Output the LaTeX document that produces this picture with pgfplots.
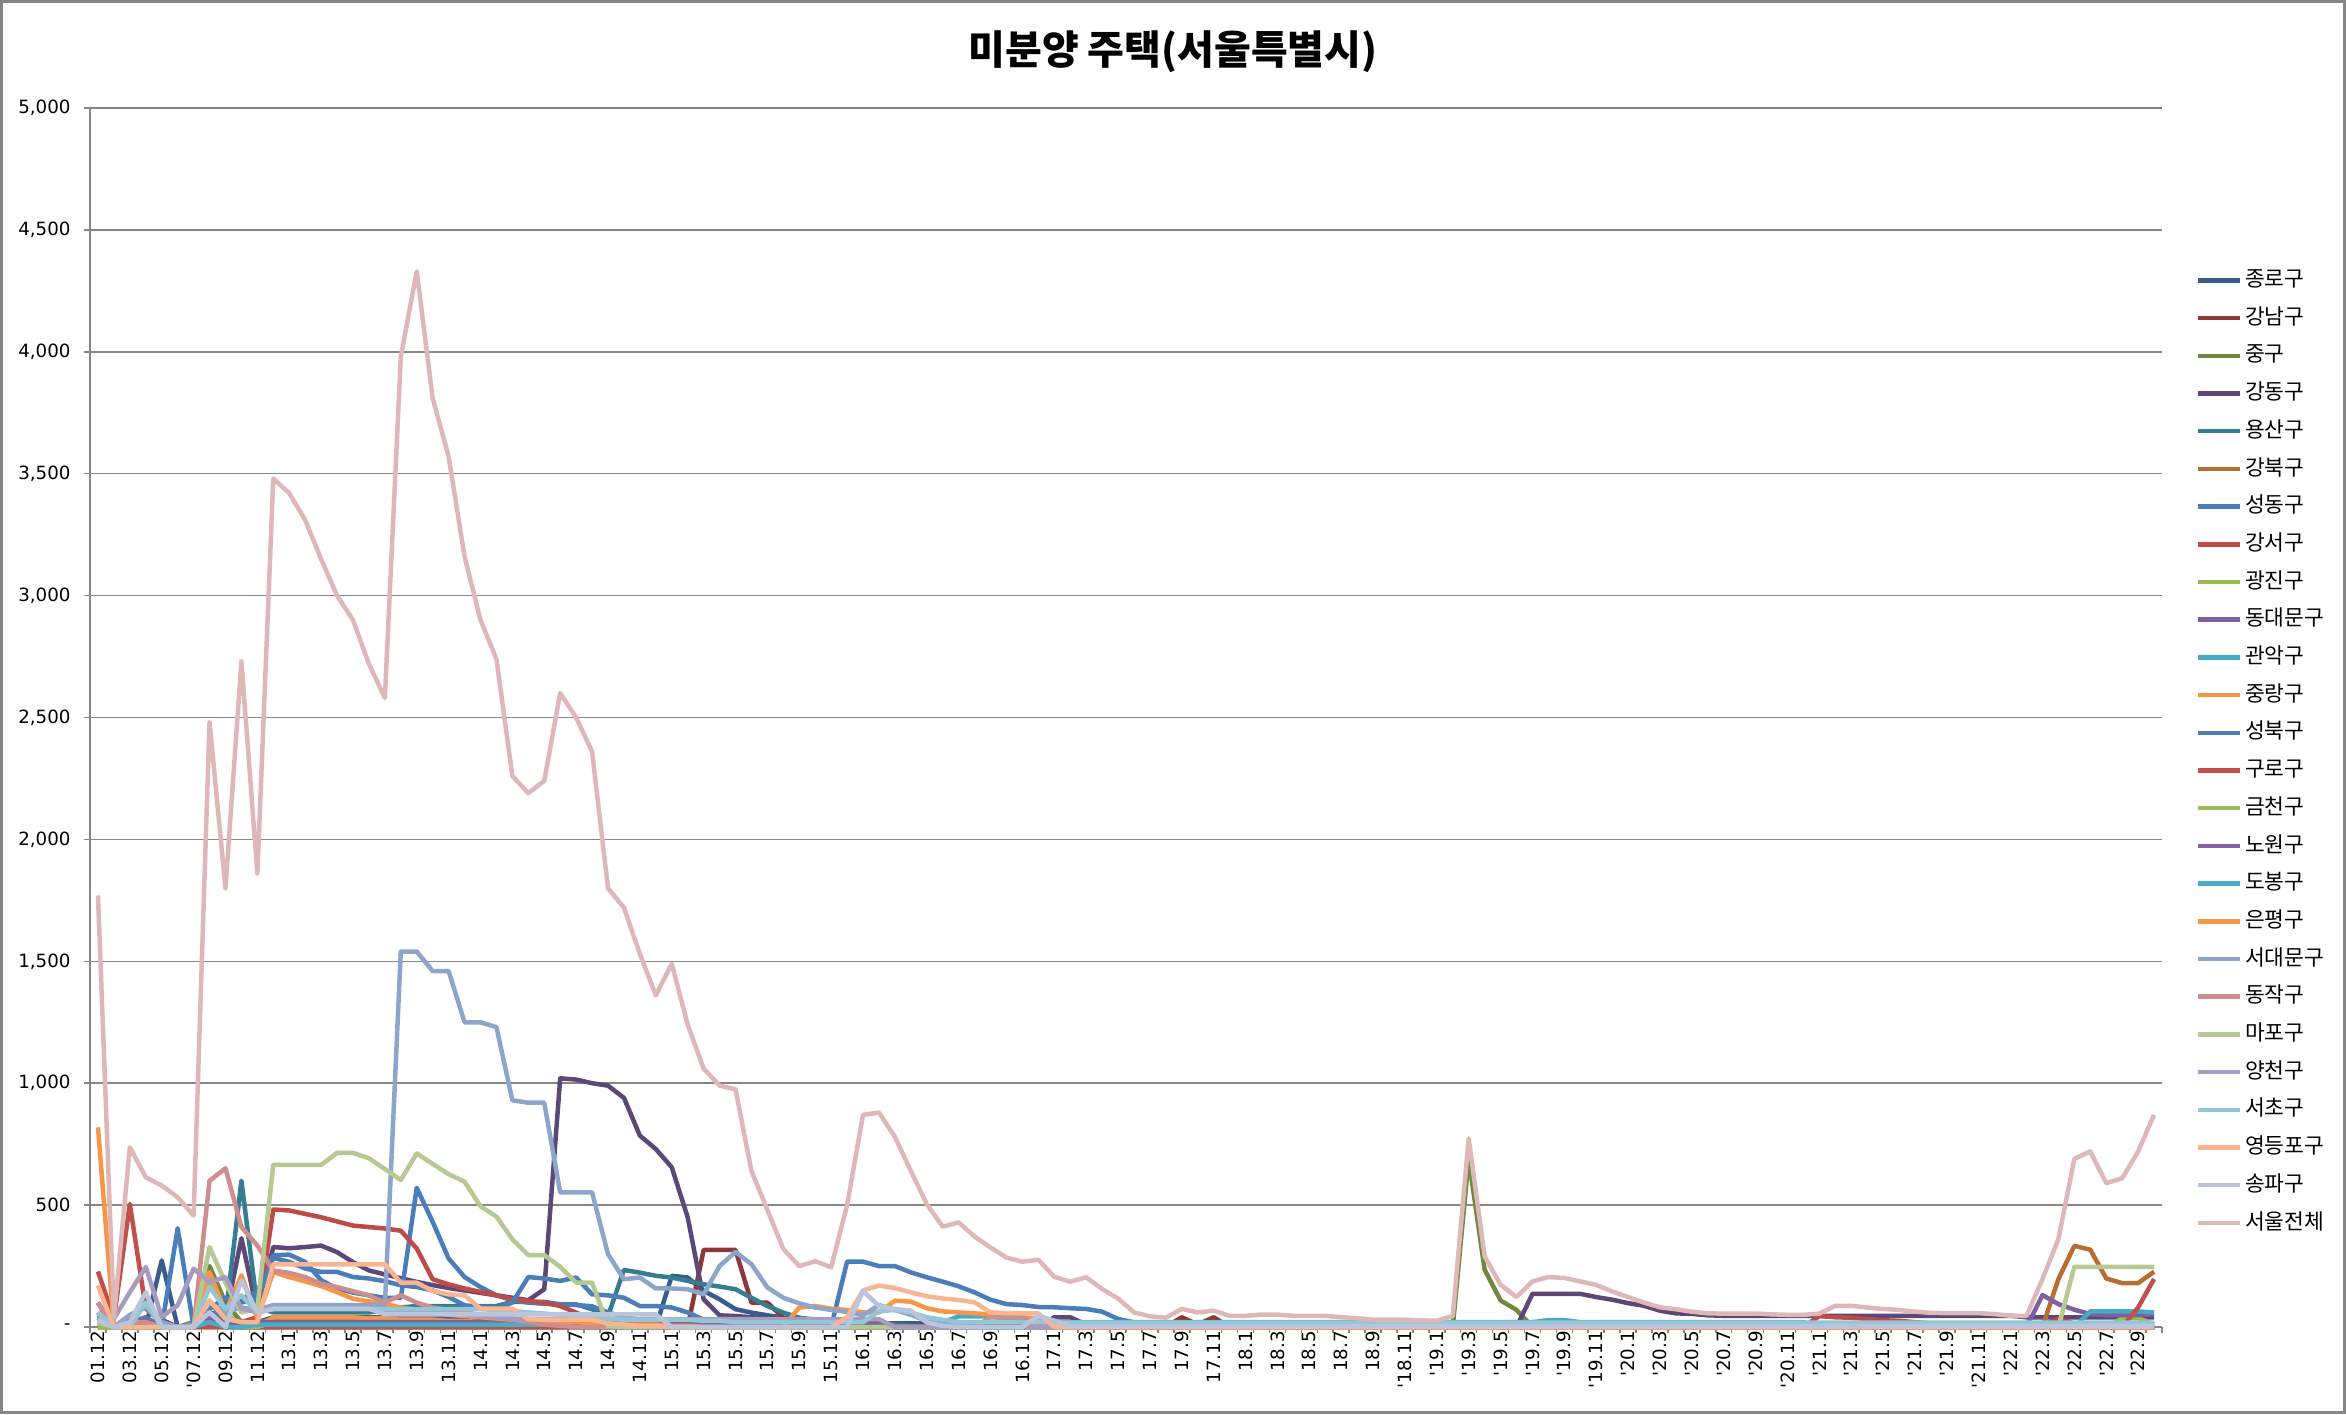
\documentclass[border=0pt]{standalone}
\usepackage{fontspec}
\setmainfont{DejaVu Sans}
\newfontfamily\kr{Noto Sans CJK KR}
\usepackage{pgfplots}
\pgfplotsset{compat=1.18}
\definecolor{axgray}{HTML}{868686}
\definecolor{c1}{HTML}{385D8A}
\definecolor{c2}{HTML}{8C3836}
\definecolor{c3}{HTML}{71893F}
\definecolor{c4}{HTML}{5C4776}
\definecolor{c5}{HTML}{357D91}
\definecolor{c6}{HTML}{B66D31}
\definecolor{c7}{HTML}{4A7EBB}
\definecolor{c8}{HTML}{BE4B48}
\definecolor{c9}{HTML}{98B954}
\definecolor{c10}{HTML}{7D60A0}
\definecolor{c11}{HTML}{46AAC5}
\definecolor{c12}{HTML}{F69544}
\definecolor{c13}{HTML}{4B7DB8}
\definecolor{c14}{HTML}{C0504D}
\definecolor{c15}{HTML}{9BBB59}
\definecolor{c16}{HTML}{8064A2}
\definecolor{c17}{HTML}{4BACC6}
\definecolor{c18}{HTML}{F79646}
\definecolor{c19}{HTML}{8EA5CB}
\definecolor{c20}{HTML}{CE8E8D}
\definecolor{c21}{HTML}{B5CA92}
\definecolor{c22}{HTML}{A99BBD}
\definecolor{c23}{HTML}{93C6D6}
\definecolor{c24}{HTML}{F9B590}
\definecolor{c25}{HTML}{B9C5DD}
\definecolor{c26}{HTML}{DDB8B7}
\newcommand{\ser}[2]{\addplot[color=#1] table[x expr=\coordindex, y index=0, header=false, row sep=\\] {#2};}
\begin{document}
\begin{tikzpicture}
\useasboundingbox (0,0) rectangle (938.4pt,565.6pt);
\draw[draw=axgray, line width=1.2pt] (0.6pt,0.6pt) rectangle (937.8pt,565.0pt);
\begin{axis}[
  at={(36pt,34.8pt)}, anchor=south west,
  scale only axis, width=828.8pt, height=487.6pt,
  xmin=-0.5, xmax=129.5, ymin=0, ymax=5000,
  clip=false,
  axis x line*=bottom, axis y line*=left,
  axis line style={draw=axgray, line width=0.6pt},
  tick align=outside, major tick length=2.4pt,
  tick style={draw=axgray, line width=0.6pt},
  xtick={-0.5,0.5,...,129.5}, xticklabels={},
  extra x ticks={0,2,...,128},
  extra x tick labels={01.12,03.12,05.12,{\textquotesingle}07.12,09.12,11.12,13.1,13.3,13.5,13.7,13.9,13.11,14.1,14.3,14.5,14.7,14.9,14.11,15.1,15.3,15.5,15.7,15.9,15.11,16.1,16.3,16.5,16.7,16.9,16.11,17.1,17.3,17.5,17.7,17.9,17.11,18.1,18.3,18.5,18.7,18.9,{\textquotesingle}18.11,{\textquotesingle}19.1,{\textquotesingle}19.3,{\textquotesingle}19.5,{\textquotesingle}19.7,{\textquotesingle}19.9,{\textquotesingle}19.11,{\textquotesingle}20.1,{\textquotesingle}20.3,{\textquotesingle}20.5,{\textquotesingle}20.7,{\textquotesingle}20.9,{\textquotesingle}20.11,{\textquotesingle}21.1,{\textquotesingle}21.3,{\textquotesingle}21.5,{\textquotesingle}21.7,{\textquotesingle}21.9,{\textquotesingle}21.11,{\textquotesingle}22.1,{\textquotesingle}22.3,{\textquotesingle}22.5,{\textquotesingle}22.7,{\textquotesingle}22.9},
  extra x tick style={major tick length=0pt},
  xticklabel style={yshift=-1.5pt, rotate=90, anchor=east, inner sep=0pt, font=\fontsize{7.3pt}{8.5pt}\selectfont},
  ytick={0,500,...,5000},
  yticklabels={{-},{500},{1,000},{1,500},{2,000},{2,500},{3,000},{3,500},{4,000},{4,500},{5,000}},
  yticklabel style={anchor=east, inner sep=0pt, xshift=-5.2pt, font=\fontsize{7.3pt}{8.5pt}\selectfont},
  /pgf/number format/assume math mode=true,
  ymajorgrids, grid style={draw=axgray, line width=0.6pt},
  every axis plot/.append style={line width=1.8pt, line join=round, no markers},
  legend image code/.code={\draw[#1] (0pt,0pt) -- (16.8pt,0pt);},
  legend cell align=left,
  legend style={at={(1.01593,0.87449)}, anchor=north west, draw=none, fill=none, inner sep=0pt, row sep=0pt,
    font=\kr\fontsize{8.6pt}{10pt}\selectfont,
    nodes={inner sep=0pt, text height=10pt, text depth=5.08pt},
    /tikz/every odd column/.append style={column sep=1.2pt}},
  legend entries={종로구,강남구,중구,강동구,용산구,강북구,성동구,강서구,광진구,동대문구,관악구,중랑구,성북구,구로구,금천구,노원구,도봉구,은평구,서대문구,동작구,마포구,양천구,서초구,영등포구,송파구,서울전체},
]
% 1 종로구
\ser{c1}{60\\0\\10\\0\\273\\0\\0\\50\\30\\20\\
20\\40\\40\\40\\40\\40\\40\\40\\40\\40\\
40\\40\\35\\35\\30\\30\\30\\30\\30\\30\\
25\\25\\20\\20\\15\\0\\210\\203\\148\\114\\
73\\59\\48\\38\\30\\25\\20\\20\\15\\15\\
15\\15\\15\\15\\15\\15\\10\\10\\10\\10\\
0\\0\\0\\0\\0\\0\\0\\0\\0\\0\\
0\\0\\0\\0\\0\\0\\0\\0\\0\\0\\
0\\0\\0\\0\\0\\0\\0\\0\\0\\0\\
0\\0\\0\\0\\0\\0\\0\\0\\0\\0\\
0\\0\\0\\0\\0\\0\\0\\0\\0\\0\\
0\\0\\0\\0\\0\\0\\0\\0\\0\\0\\
0\\0\\0\\0\\0\\0\\0\\0\\0\\0\\}
% 2 강남구
\ser{c2}{0\\0\\0\\0\\0\\0\\0\\60\\20\\0\\
0\\0\\0\\0\\0\\0\\0\\0\\0\\0\\
0\\0\\0\\0\\0\\0\\0\\0\\0\\0\\
0\\0\\0\\0\\0\\0\\0\\0\\316\\316\\
316\\100\\100\\38\\10\\0\\0\\0\\0\\0\\
0\\0\\0\\0\\0\\0\\0\\0\\0\\0\\
0\\0\\0\\0\\0\\0\\0\\0\\40\\10\\
40\\0\\0\\0\\0\\0\\0\\0\\0\\0\\
0\\0\\0\\0\\0\\0\\0\\0\\0\\0\\
0\\0\\0\\0\\0\\0\\0\\0\\0\\0\\
0\\0\\0\\0\\0\\0\\0\\0\\0\\0\\
0\\0\\0\\0\\0\\0\\0\\0\\0\\0\\
0\\0\\0\\0\\0\\0\\0\\0\\0\\0\\}
% 3 중구
\ser{c3}{30\\0\\0\\0\\0\\0\\20\\250\\100\\20\\
20\\30\\30\\30\\30\\25\\25\\25\\20\\20\\
20\\20\\20\\20\\15\\15\\15\\15\\15\\15\\
10\\10\\10\\10\\10\\10\\10\\10\\10\\10\\
0\\0\\0\\0\\0\\0\\0\\0\\0\\0\\
0\\0\\0\\0\\0\\0\\0\\0\\0\\0\\
0\\0\\0\\0\\0\\0\\0\\0\\0\\0\\
0\\0\\0\\0\\0\\0\\0\\0\\0\\0\\
0\\0\\0\\0\\0\\0\\690\\235\\109\\70\\
0\\0\\0\\0\\0\\0\\0\\0\\0\\0\\
0\\0\\0\\0\\0\\0\\0\\0\\0\\0\\
0\\0\\0\\0\\0\\0\\0\\0\\0\\0\\
0\\0\\0\\0\\0\\0\\0\\0\\0\\0\\}
% 4 강동구
\ser{c4}{100\\0\\10\\20\\30\\0\\10\\60\\40\\364\\
60\\328\\323\\328\\334\\307\\266\\232\\216\\200\\
185\\172\\160\\150\\140\\130\\120\\110\\155\\1020\\
1015\\1000\\990\\940\\785\\730\\655\\450\\114\\48\\
45\\40\\35\\30\\25\\20\\15\\10\\5\\0\\
0\\0\\0\\0\\0\\0\\0\\0\\0\\0\\
40\\40\\10\\0\\0\\0\\0\\0\\0\\0\\
0\\0\\0\\0\\0\\0\\0\\0\\0\\0\\
0\\0\\0\\0\\0\\0\\0\\0\\0\\0\\
136\\136\\136\\136\\123\\112\\98\\87\\67\\56\\
54\\48\\46\\46\\46\\46\\46\\46\\46\\46\\
46\\46\\46\\46\\46\\46\\46\\46\\46\\46\\
46\\40\\40\\40\\40\\40\\40\\40\\40\\40\\}
% 5 용산구
\ser{c5}{40\\0\\20\\0\\0\\0\\0\\50\\40\\600\\
80\\60\\60\\60\\60\\60\\60\\60\\70\\80\\
86\\86\\86\\86\\86\\86\\103\\103\\103\\93\\
93\\73\\45\\234\\223\\210\\203\\189\\175\\166\\
155\\120\\86\\59\\38\\30\\25\\20\\15\\10\\
10\\5\\0\\0\\0\\0\\0\\0\\0\\0\\
0\\0\\0\\0\\0\\0\\0\\0\\0\\0\\
0\\0\\0\\0\\0\\0\\0\\0\\0\\0\\
0\\0\\0\\0\\0\\0\\0\\0\\0\\0\\
0\\0\\0\\0\\0\\0\\0\\0\\0\\0\\
0\\0\\0\\0\\0\\0\\0\\0\\0\\0\\
0\\0\\0\\0\\0\\0\\0\\0\\0\\0\\
0\\0\\0\\0\\0\\0\\0\\0\\0\\0\\}
% 6 강북구
\ser{c6}{30\\0\\0\\0\\0\\0\\0\\100\\30\\0\\
0\\0\\0\\0\\0\\0\\0\\0\\0\\0\\
0\\0\\0\\0\\0\\0\\0\\0\\0\\0\\
0\\0\\0\\0\\0\\0\\0\\0\\0\\0\\
0\\0\\0\\0\\0\\0\\0\\0\\0\\0\\
0\\0\\0\\0\\0\\0\\0\\0\\0\\0\\
0\\0\\0\\0\\0\\0\\0\\0\\0\\0\\
0\\0\\0\\0\\0\\0\\0\\0\\0\\0\\
0\\0\\0\\0\\0\\0\\0\\0\\0\\0\\
0\\0\\0\\0\\0\\0\\0\\0\\0\\0\\
0\\0\\0\\0\\0\\0\\0\\0\\0\\0\\
0\\0\\0\\0\\0\\0\\0\\0\\0\\0\\
0\\0\\0\\197\\333\\317\\199\\180\\180\\227\\}
% 7 성동구
\ser{c7}{50\\0\\30\\0\\0\\405\\0\\75\\120\\116\\
143\\294\\297\\267\\192\\158\\141\\130\\120\\119\\
571\\431\\281\\205\\164\\130\\110\\100\\95\\93\\
90\\85\\60\\40\\30\\25\\20\\15\\10\\5\\
5\\5\\5\\0\\0\\0\\0\\268\\268\\250\\
250\\224\\204\\186\\167\\142\\112\\94\\90\\82\\
81\\77\\74\\63\\33\\19\\10\\5\\0\\0\\
0\\0\\0\\0\\0\\0\\0\\0\\0\\0\\
0\\0\\0\\0\\0\\0\\0\\0\\0\\0\\
0\\0\\0\\0\\0\\0\\0\\0\\0\\0\\
0\\0\\0\\0\\0\\0\\0\\0\\0\\0\\
0\\0\\0\\0\\0\\0\\0\\0\\0\\0\\
0\\0\\0\\0\\0\\0\\0\\0\\0\\0\\}
% 8 강서구
\ser{c8}{0\\0\\0\\0\\0\\0\\0\\40\\20\\20\\
40\\482\\478\\464\\450\\433\\416\\410\\404\\395\\
322\\196\\175\\158\\144\\130\\114\\107\\100\\86\\
59\\30\\15\\10\\5\\0\\0\\0\\0\\0\\
0\\0\\0\\0\\0\\0\\0\\0\\0\\0\\
0\\0\\0\\0\\0\\0\\0\\0\\0\\0\\
0\\0\\0\\0\\0\\0\\0\\0\\0\\0\\
0\\0\\0\\0\\0\\0\\0\\0\\0\\0\\
0\\0\\0\\0\\0\\0\\0\\0\\0\\0\\
0\\0\\0\\0\\0\\0\\0\\0\\0\\0\\
0\\0\\0\\0\\0\\0\\0\\0\\45\\40\\
38\\33\\28\\25\\20\\15\\12\\10\\8\\6\\
5\\5\\10\\33\\15\\5\\0\\0\\0\\0\\}
% 9 광진구
\ser{c9}{0\\0\\0\\0\\0\\0\\0\\0\\0\\0\\
0\\0\\0\\0\\0\\0\\0\\0\\0\\0\\
0\\0\\0\\0\\0\\0\\0\\0\\0\\0\\
0\\0\\0\\0\\0\\0\\0\\0\\0\\0\\
0\\0\\0\\0\\0\\0\\0\\0\\0\\0\\
0\\0\\0\\0\\0\\0\\0\\0\\0\\0\\
0\\0\\0\\0\\0\\0\\0\\0\\0\\0\\
0\\0\\0\\0\\0\\0\\0\\0\\0\\0\\
0\\0\\0\\0\\0\\0\\0\\0\\0\\0\\
0\\0\\0\\0\\0\\0\\0\\0\\0\\0\\
0\\0\\0\\0\\0\\0\\0\\0\\0\\0\\
0\\0\\0\\0\\0\\0\\0\\0\\0\\0\\
0\\0\\0\\0\\0\\0\\0\\36\\36\\12\\}
% 10 동대문구
\ser{c10}{40\\0\\0\\0\\0\\0\\0\\30\\10\\0\\
20\\20\\20\\20\\20\\20\\20\\20\\20\\20\\
20\\20\\20\\20\\20\\20\\20\\20\\20\\20\\
10\\10\\10\\10\\10\\10\\10\\10\\10\\10\\
10\\10\\10\\10\\10\\10\\10\\10\\10\\10\\
0\\0\\0\\0\\0\\0\\0\\0\\0\\0\\
0\\0\\0\\0\\0\\0\\0\\0\\0\\0\\
0\\0\\0\\0\\0\\0\\0\\0\\0\\0\\
0\\0\\0\\0\\0\\0\\0\\0\\0\\0\\
0\\0\\0\\0\\0\\0\\0\\0\\0\\0\\
0\\0\\0\\0\\0\\0\\0\\0\\0\\0\\
0\\0\\0\\0\\0\\0\\0\\0\\0\\0\\
0\\0\\131\\94\\71\\53\\49\\49\\49\\53\\}
% 11 관악구
\ser{c11}{20\\0\\0\\0\\0\\0\\0\\10\\0\\0\\
0\\0\\0\\0\\0\\0\\0\\0\\0\\0\\
0\\0\\0\\0\\0\\0\\0\\0\\0\\0\\
0\\0\\0\\0\\0\\0\\0\\0\\0\\0\\
0\\0\\0\\0\\0\\0\\0\\0\\0\\0\\
0\\0\\0\\19\\44\\44\\44\\33\\33\\26\\
20\\20\\20\\20\\20\\20\\20\\20\\20\\20\\
20\\20\\20\\20\\20\\20\\20\\20\\20\\20\\
20\\20\\20\\20\\20\\20\\20\\20\\20\\20\\
20\\28\\28\\20\\20\\20\\20\\20\\20\\20\\
20\\20\\20\\20\\20\\20\\20\\20\\0\\0\\
0\\0\\0\\0\\0\\0\\0\\0\\0\\0\\
0\\0\\0\\0\\0\\64\\64\\64\\64\\60\\}
% 12 중랑구
\ser{c12}{0\\0\\0\\0\\0\\0\\0\\0\\0\\0\\
0\\40\\40\\40\\40\\40\\40\\35\\35\\30\\
30\\30\\25\\25\\20\\20\\20\\15\\15\\15\\
10\\10\\10\\10\\10\\10\\10\\10\\10\\10\\
0\\0\\0\\0\\0\\0\\0\\0\\0\\0\\
0\\0\\0\\0\\0\\0\\0\\0\\0\\0\\
0\\0\\0\\0\\0\\0\\0\\0\\0\\0\\
0\\0\\0\\0\\0\\0\\0\\0\\0\\0\\
0\\0\\0\\0\\0\\0\\0\\0\\0\\0\\
0\\0\\0\\0\\0\\0\\0\\0\\0\\0\\
0\\0\\0\\0\\0\\0\\0\\0\\0\\0\\
0\\0\\0\\0\\0\\0\\0\\0\\0\\0\\
0\\0\\0\\0\\0\\0\\0\\0\\0\\0\\}
% 13 성북구
\ser{c13}{30\\0\\20\\40\\0\\0\\0\\40\\80\\100\\
120\\284\\267\\240\\226\\226\\205\\199\\188\\171\\
164\\150\\123\\89\\82\\75\\100\\205\\199\\189\\
203\\134\\130\\120\\86\\86\\80\\60\\30\\10\\
0\\0\\0\\0\\0\\0\\0\\0\\0\\0\\
0\\0\\0\\0\\0\\0\\0\\0\\0\\0\\
0\\0\\0\\0\\0\\0\\0\\0\\0\\0\\
0\\0\\0\\0\\0\\0\\0\\0\\0\\0\\
0\\0\\0\\0\\0\\0\\0\\0\\0\\0\\
0\\0\\0\\0\\0\\0\\0\\0\\0\\0\\
0\\0\\0\\0\\0\\0\\0\\0\\0\\0\\
0\\0\\0\\0\\0\\0\\0\\0\\0\\0\\
0\\0\\0\\0\\0\\0\\0\\0\\0\\0\\}
% 14 구로구
\ser{c14}{228\\34\\505\\75\\20\\0\\0\\0\\0\\0\\
0\\0\\0\\0\\0\\0\\0\\0\\0\\0\\
0\\0\\0\\0\\0\\0\\0\\0\\0\\0\\
0\\0\\0\\0\\0\\0\\0\\0\\0\\0\\
0\\0\\0\\0\\0\\0\\0\\0\\0\\0\\
0\\0\\0\\0\\0\\0\\0\\0\\0\\0\\
0\\0\\0\\0\\0\\0\\0\\0\\0\\0\\
0\\0\\0\\0\\0\\0\\0\\0\\0\\0\\
0\\0\\0\\0\\0\\0\\0\\0\\0\\0\\
0\\0\\0\\0\\0\\0\\0\\0\\0\\0\\
0\\0\\0\\0\\0\\0\\0\\0\\0\\0\\
0\\0\\0\\0\\0\\0\\0\\0\\0\\0\\
0\\0\\0\\0\\0\\0\\0\\0\\80\\197\\}
% 15 금천구
\ser{c15}{0\\0\\0\\0\\0\\0\\0\\200\\60\\0\\
0\\20\\20\\20\\20\\20\\20\\20\\20\\20\\
15\\15\\15\\15\\15\\15\\15\\15\\15\\15\\
15\\15\\15\\15\\15\\15\\15\\15\\15\\15\\
0\\0\\0\\0\\0\\0\\0\\0\\0\\0\\
0\\0\\0\\0\\0\\0\\0\\0\\0\\0\\
0\\0\\0\\0\\0\\0\\0\\0\\0\\0\\
0\\0\\0\\0\\0\\0\\0\\0\\0\\0\\
0\\0\\0\\0\\0\\0\\0\\0\\0\\0\\
0\\0\\0\\0\\0\\0\\0\\0\\0\\0\\
0\\0\\0\\0\\0\\0\\0\\0\\0\\0\\
0\\0\\0\\0\\0\\0\\0\\0\\0\\0\\
0\\0\\0\\0\\0\\0\\0\\0\\0\\0\\}
% 16 노원구
\ser{c16}{60\\0\\30\\30\\0\\0\\0\\40\\20\\0\\
20\\20\\20\\20\\20\\20\\20\\20\\20\\20\\
20\\20\\20\\20\\20\\20\\20\\20\\20\\20\\
15\\15\\15\\15\\15\\15\\15\\15\\15\\15\\
15\\15\\15\\15\\15\\15\\15\\15\\15\\15\\
0\\0\\0\\0\\0\\0\\0\\0\\0\\0\\
0\\0\\0\\0\\0\\0\\0\\0\\0\\0\\
0\\0\\0\\0\\0\\0\\0\\0\\0\\0\\
0\\0\\0\\0\\0\\0\\0\\0\\0\\0\\
0\\0\\0\\0\\0\\0\\0\\0\\0\\0\\
0\\0\\0\\0\\0\\0\\0\\0\\0\\0\\
0\\0\\0\\0\\0\\0\\0\\0\\0\\0\\
0\\0\\0\\0\\0\\0\\0\\0\\0\\0\\}
% 17 도봉구
\ser{c17}{40\\0\\0\\0\\0\\0\\0\\20\\0\\0\\
10\\10\\10\\10\\10\\10\\10\\10\\10\\10\\
10\\10\\10\\10\\10\\10\\10\\10\\10\\10\\
0\\0\\0\\0\\0\\0\\0\\0\\0\\0\\
0\\0\\0\\0\\0\\0\\0\\0\\0\\0\\
0\\0\\0\\0\\0\\0\\0\\0\\0\\0\\
0\\0\\0\\0\\0\\0\\0\\0\\0\\0\\
0\\0\\0\\0\\0\\0\\0\\0\\0\\0\\
0\\0\\0\\0\\0\\0\\0\\0\\0\\0\\
0\\0\\0\\0\\0\\0\\0\\0\\0\\0\\
0\\0\\0\\0\\0\\0\\0\\0\\0\\0\\
0\\0\\0\\0\\0\\0\\0\\0\\0\\0\\
0\\0\\0\\0\\0\\0\\0\\0\\0\\0\\}
% 18 은평구
\ser{c18}{819\\0\\0\\0\\0\\0\\0\\225\\61\\212\\
34\\225\\205\\187\\168\\143\\116\\105\\95\\80\\
70\\60\\50\\45\\40\\35\\30\\30\\25\\20\\
20\\15\\15\\10\\10\\10\\5\\5\\0\\0\\
0\\0\\0\\0\\80\\86\\75\\70\\60\\60\\
108\\104\\77\\64\\60\\56\\51\\46\\40\\33\\
12\\5\\0\\0\\0\\0\\0\\0\\0\\0\\
0\\0\\0\\0\\0\\0\\0\\0\\0\\0\\
0\\0\\0\\0\\0\\0\\0\\0\\0\\0\\
0\\0\\0\\0\\0\\0\\0\\0\\0\\0\\
0\\0\\0\\0\\0\\0\\0\\0\\0\\0\\
0\\0\\0\\0\\0\\0\\0\\0\\0\\0\\
0\\0\\0\\0\\0\\0\\0\\0\\0\\0\\}
% 19 서대문구
\ser{c19}{40\\0\\50\\80\\20\\0\\10\\100\\60\\80\\
70\\90\\90\\90\\90\\90\\90\\90\\88\\1540\\
1540\\1460\\1460\\1250\\1250\\1230\\930\\920\\920\\552\\
552\\552\\299\\196\\203\\158\\158\\155\\134\\250\\
308\\258\\162\\120\\97\\80\\70\\62\\48\\90\\
70\\50\\25\\10\\5\\0\\0\\0\\0\\0\\
0\\0\\0\\0\\0\\0\\0\\0\\0\\0\\
0\\0\\0\\0\\0\\0\\0\\0\\0\\0\\
0\\0\\0\\0\\0\\0\\0\\0\\0\\0\\
0\\0\\0\\0\\0\\0\\0\\0\\0\\0\\
0\\0\\0\\0\\0\\0\\0\\0\\0\\0\\
0\\0\\0\\0\\0\\0\\0\\0\\0\\0\\
0\\0\\0\\0\\0\\0\\0\\0\\0\\0\\}
% 20 동작구
\ser{c20}{100\\0\\20\\20\\0\\0\\0\\600\\651\\410\\
334\\232\\222\\205\\177\\164\\147\\130\\100\\130\\
100\\80\\70\\60\\50\\40\\30\\20\\10\\5\\
0\\0\\0\\0\\0\\0\\0\\0\\0\\0\\
0\\0\\0\\0\\0\\0\\0\\0\\0\\0\\
0\\0\\0\\0\\0\\0\\40\\40\\40\\0\\
0\\0\\0\\0\\0\\0\\0\\0\\0\\0\\
0\\0\\0\\0\\0\\0\\0\\0\\0\\0\\
0\\0\\0\\0\\0\\0\\0\\0\\0\\0\\
0\\0\\0\\0\\0\\0\\0\\0\\0\\0\\
0\\0\\0\\0\\0\\0\\0\\0\\0\\0\\
0\\0\\0\\0\\0\\0\\0\\0\\0\\0\\
0\\0\\0\\0\\0\\0\\0\\0\\0\\0\\}
% 21 마포구
\ser{c21}{20\\0\\0\\0\\0\\0\\0\\328\\180\\60\\
75\\665\\665\\665\\665\\714\\714\\692\\648\\603\\
712\\669\\627\\596\\495\\453\\360\\295\\295\\247\\
182\\182\\4\\0\\0\\0\\0\\0\\0\\0\\
0\\0\\0\\0\\0\\0\\0\\0\\0\\0\\
0\\0\\0\\0\\0\\0\\0\\0\\0\\0\\
0\\0\\0\\0\\0\\0\\0\\0\\0\\0\\
0\\0\\0\\0\\0\\0\\0\\0\\0\\0\\
0\\0\\0\\0\\0\\0\\0\\0\\0\\0\\
0\\0\\0\\0\\0\\0\\0\\0\\0\\0\\
0\\0\\0\\0\\0\\0\\0\\0\\0\\0\\
0\\0\\0\\0\\0\\0\\0\\0\\0\\0\\
0\\0\\0\\0\\247\\247\\247\\247\\247\\247\\}
% 22 양천구
\ser{c22}{50\\34\\143\\246\\41\\89\\239\\184\\205\\75\\
61\\75\\75\\75\\75\\75\\75\\75\\70\\70\\
65\\60\\55\\50\\45\\40\\35\\32\\32\\32\\
32\\32\\32\\32\\32\\32\\32\\32\\32\\32\\
32\\32\\32\\32\\32\\32\\32\\32\\32\\32\\
0\\0\\0\\0\\0\\0\\0\\0\\0\\0\\
0\\0\\0\\0\\0\\0\\0\\0\\0\\0\\
0\\0\\0\\0\\0\\0\\0\\0\\0\\0\\
0\\0\\0\\0\\0\\0\\0\\0\\0\\0\\
0\\0\\0\\0\\0\\0\\0\\0\\0\\0\\
0\\0\\0\\0\\0\\0\\0\\0\\0\\0\\
0\\0\\0\\0\\0\\0\\0\\0\\0\\0\\
0\\0\\0\\0\\0\\0\\0\\0\\0\\0\\}
% 23 서초구
\ser{c23}{60\\0\\0\\100\\0\\0\\0\\164\\75\\130\\
60\\73\\73\\73\\73\\73\\73\\73\\73\\73\\
73\\73\\73\\73\\73\\70\\65\\60\\55\\50\\
45\\40\\35\\30\\30\\30\\30\\30\\25\\25\\
20\\20\\20\\20\\20\\20\\20\\20\\20\\65\\
70\\60\\40\\30\\20\\20\\20\\20\\20\\20\\
18\\18\\18\\18\\18\\18\\18\\18\\18\\18\\
18\\18\\18\\18\\18\\18\\18\\18\\18\\18\\
18\\18\\18\\18\\18\\18\\18\\18\\18\\18\\
18\\18\\18\\18\\18\\18\\18\\18\\18\\18\\
18\\18\\18\\18\\18\\18\\18\\18\\18\\18\\
18\\18\\18\\18\\18\\18\\18\\18\\18\\18\\
18\\18\\18\\18\\18\\18\\18\\18\\18\\18\\}
% 24 영등포구
\ser{c24}{170\\0\\0\\0\\0\\0\\0\\109\\34\\20\\
20\\257\\257\\257\\257\\257\\257\\257\\257\\182\\
182\\148\\134\\130\\75\\75\\75\\32\\30\\30\\
30\\30\\15\\10\\5\\5\\0\\0\\0\\0\\
0\\0\\0\\0\\0\\0\\0\\40\\150\\170\\
160\\142\\126\\117\\111\\101\\60\\57\\56\\56\\
0\\0\\0\\0\\0\\0\\0\\0\\0\\0\\
0\\0\\0\\0\\0\\0\\0\\0\\0\\0\\
0\\0\\0\\0\\0\\0\\0\\0\\0\\0\\
0\\0\\0\\0\\0\\0\\0\\0\\0\\0\\
0\\0\\0\\0\\0\\0\\0\\0\\0\\0\\
0\\0\\0\\0\\0\\0\\0\\0\\0\\0\\
0\\0\\0\\0\\0\\0\\0\\0\\0\\0\\}
% 25 송파구
\ser{c25}{30\\0\\20\\143\\0\\0\\0\\60\\0\\191\\
60\\75\\75\\75\\75\\75\\75\\75\\52\\52\\
52\\52\\52\\52\\52\\52\\52\\52\\52\\52\\
52\\52\\52\\52\\52\\52\\0\\0\\0\\0\\
0\\0\\0\\0\\0\\0\\0\\0\\148\\86\\
74\\67\\19\\5\\0\\0\\0\\0\\0\\46\\
26\\5\\5\\5\\5\\5\\5\\5\\5\\5\\
5\\5\\5\\5\\5\\5\\5\\5\\5\\5\\
5\\5\\5\\5\\5\\5\\5\\5\\5\\5\\
5\\5\\5\\5\\5\\5\\5\\5\\5\\5\\
5\\5\\5\\5\\5\\5\\5\\5\\5\\5\\
5\\5\\5\\5\\5\\5\\5\\5\\5\\5\\
5\\5\\5\\5\\5\\5\\5\\5\\5\\5\\}
% 26 서울전체
\ser{c26}{1770\\40\\737\\614\\580\\532\\457\\2480\\1800\\2730\\
1860\\3480\\3420\\3310\\3150\\3000\\2900\\2720\\2580\\3980\\
4330\\3810\\3570\\3160\\2900\\2740\\2260\\2190\\2240\\2600\\
2500\\2360\\1800\\1720\\1530\\1360\\1490\\1240\\1060\\990\\
975\\640\\480\\320\\250\\270\\245\\500\\870\\880\\
780\\640\\504\\412\\429\\371\\326\\285\\268\\276\\
206\\186\\204\\156\\117\\60\\44\\38\\74\\60\\
67\\46\\46\\51\\51\\46\\46\\46\\40\\36\\
30\\30\\30\\27\\26\\45\\773\\290\\173\\123\\
187\\205\\201\\187\\173\\146\\123\\100\\81\\73\\
63\\56\\55\\55\\55\\52\\50\\50\\55\\87\\
87\\80\\74\\70\\63\\58\\57\\57\\57\\53\\
46\\46\\197\\361\\690\\720\\590\\610\\720\\870\\}
\end{axis}
\node[font=\kr\bfseries\fontsize{16pt}{19pt}\selectfont] at (469.2pt,544.8pt) {미분양 주택(서울특별시)};
\end{tikzpicture}
\end{document}
